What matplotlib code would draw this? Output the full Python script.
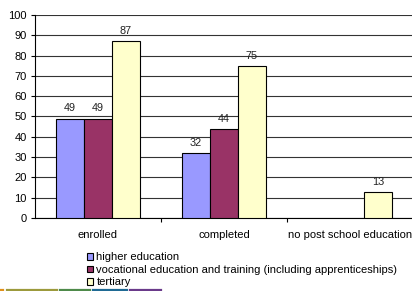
import matplotlib
matplotlib.use("Agg")
import matplotlib.pyplot as plt
from matplotlib.lines import Line2D
import numpy as np

plt.rcParams['font.family'] = ['Liberation Sans', 'DejaVu Sans']

# Data
categories = ["enrolled", "completed", "no post school education"]
series = ["higher education",
          "vocational education and training (including apprenticeships)",
          "tertiary"]
higher = [49, 32, None]
vocational = [49, 44, None]
tertiary = [87, 75, 13]
colors = ["#9999FF", "#993366", "#FFFFCC"]

W, H = 412, 291
fig = plt.figure(figsize=(W / 100, H / 100), dpi=100)
ax = fig.add_axes([35 / W, (H - 218) / H, 378 / W, (218 - 15) / H])

x = np.arange(len(categories))
bw = 0.222
handles = []
for i, (vals, col, name) in enumerate(zip([higher, vocational, tertiary], colors, series)):
    xs = [xx for xx, v in zip(x, vals) if v is not None]
    vs = [v for v in vals if v is not None]
    bars = ax.bar(np.array(xs) + (i - 1) * bw, vs, width=bw, color=col,
                  edgecolor="black", linewidth=0.8, zorder=3, label=name)
    handles.append(bars)
    for b, v in zip(bars, vs):
        ax.text(b.get_x() + b.get_width() / 2, v + 2.5, str(v),
                ha="center", va="bottom", fontsize=7.8, color="#222222")

ax.set_xlim(-0.5, 2.5)
ax.set_ylim(0, 100)
ax.set_yticks(range(0, 101, 10))
ax.yaxis.grid(True, color="#333333", linewidth=0.8, zorder=0)
ax.set_axisbelow(True)

ax.set_xticks(x)
ax.set_xticklabels(categories, fontsize=8)
ax.set_xticks([0.5, 1.5], minor=True)
ax.tick_params(axis="x", which="major", length=0, pad=9)
ax.tick_params(axis="x", which="minor", length=3, width=0.8, direction="out")
ax.tick_params(axis="y", labelsize=8, length=3, width=0.8, pad=3)

for s in ["top", "right"]:
    ax.spines[s].set_visible(False)
for s in ["left", "bottom"]:
    ax.spines[s].set_linewidth(0.8)

fig.legend(handles=handles, loc="upper left",
           bbox_to_anchor=(87 / W, 1 - 252.5 / H), frameon=False,
           fontsize=8, handlelength=0.55, handleheight=0.55,
           handletextpad=0.3, labelspacing=0.22, borderpad=0, borderaxespad=0)

# decorative strip at the bottom
strip = [(0, 3, "#E0901A"), (7, 57, "#9C9A3C"), (60, 90, "#4E8A4A"),
         (93, 127, "#1F6A94"), (130, 161, "#6A3A8A")]
for x0, x1, c in strip:
    fig.add_artist(Line2D([x0 / W, x1 / W], [1.5 / H, 1.5 / H],
                          color=c, linewidth=1.6, transform=fig.transFigure))

fig.savefig("out.png", dpi=100)
